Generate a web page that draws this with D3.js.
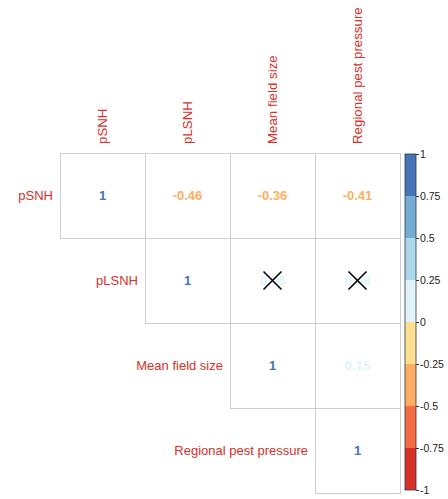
<!DOCTYPE html>
<html lang="en">
<head>
<meta charset="UTF-8">
<title>Correlation plot</title>
<script src="https://cdn.jsdelivr.net/npm/d3@7"></script>
<style>
  body { margin: 0; background: #fff; }
  text { font-family: "Liberation Sans", Arial, sans-serif; }
</style>
</head>
<body>
<script>
// variables and correlation values (upper triangle, row i / col j)
var vars = ["pSNH", "pLSNH", "Mean field size", "Regional pest pressure"];
var corr = [
  [1, -0.46, -0.36, -0.41],
  [null, 1, 0.06, 0.08],
  [null, null, 1, 0.15],
  [null, null, null, 1]
];
// cells that are not significant get a cross
var crossed = [[1, 2], [1, 3]];
var legendTicks = [1, 0.75, 0.5, 0.25, 0, -0.25, -0.5, -0.75, -1];
var bandColors = ["#D73027", "#F46D43", "#FDAE61", "#FEE090", "#E0F3F8", "#ABD9E9", "#74ADD1", "#4575B4"];

var width = 448, height = 499;
var svg = d3.select("body").append("svg")
    .attr("width", width)
    .attr("height", height);

var x = d3.scaleBand().domain(d3.range(vars.length)).range([60, 400]);
var y = d3.scaleBand().domain(d3.range(vars.length)).range([153, 493]);

var color = d3.scaleQuantize().domain([-1, 1]).range(bandColors);

var cells = [];
corr.forEach(function (row, i) {
    row.forEach(function (v, j) {
        if (v !== null) cells.push({ i: i, j: j, v: v });
    });
});

// cell borders
svg.selectAll(".cell")
    .data(cells)
    .enter().append("rect")
    .attr("class", "cell")
    .attr("x", function (d) { return x(d.j) + 0.5; })
    .attr("y", function (d) { return y(d.i) + 0.5; })
    .attr("width", x.bandwidth())
    .attr("height", y.bandwidth())
    .attr("fill", "none")
    .attr("stroke", "#cfcfcf")
    .attr("stroke-width", 1);

// numbers
svg.selectAll(".num")
    .data(cells)
    .enter().append("text")
    .attr("class", "num")
    .attr("x", function (d) { return x(d.j) + x.bandwidth() / 2; })
    .attr("y", function (d) { return y(d.i) + y.bandwidth() / 2; })
    .attr("dy", "0.36em")
    .attr("text-anchor", "middle")
    .style("font-size", "13px")
    .style("font-weight", "bold")
    .attr("fill", function (d) { return d.v === 1 ? bandColors[7] : color(d.v); })
    .text(function (d) { return d.v === 1 ? "1" : d3.format(".2f")(d.v).replace("\u2212", "-"); });

// crosses
var cr = 9;
crossed.forEach(function (c) {
    var cx = x(c[1]) + x.bandwidth() / 2, cy = y(c[0]) + y.bandwidth() / 2;
    svg.append("path")
        .attr("d", "M" + (cx - cr) + "," + (cy - cr) + "L" + (cx + cr) + "," + (cy + cr) +
                   "M" + (cx - cr) + "," + (cy + cr) + "L" + (cx + cr) + "," + (cy - cr))
        .attr("stroke", "#000")
        .attr("stroke-width", 1.6)
        .attr("fill", "none");
});

// row labels
svg.selectAll(".rlab")
    .data(vars)
    .enter().append("text")
    .attr("class", "rlab")
    .attr("x", function (d, i) { return x(i) - 7; })
    .attr("y", function (d, i) { return y(i) + y.bandwidth() / 2; })
    .attr("dy", "0.36em")
    .attr("text-anchor", "end")
    .style("font-size", "13px")
    .attr("fill", "#D7302A")
    .text(function (d) { return d; });

// column labels
svg.selectAll(".clab")
    .data(vars)
    .enter().append("text")
    .attr("class", "clab")
    .attr("transform", function (d, i) {
        return "translate(" + (x(i) + x.bandwidth() / 2) + ",144) rotate(-90)";
    })
    .attr("dy", "0.36em")
    .attr("text-anchor", "start")
    .style("font-size", "13.3px")
    .attr("fill", "#D7302A")
    .text(function (d) { return d; });

// colour legend
var ly = d3.scaleLinear().domain([1, -1]).range([154, 490]);
var lx = 405, lw = 11;
var bands = d3.range(bandColors.length).map(function (k) {
    return { lo: -1 + k * 0.25, hi: -1 + (k + 1) * 0.25, c: bandColors[k] };
});
svg.selectAll(".band")
    .data(bands)
    .enter().append("rect")
    .attr("class", "band")
    .attr("x", lx)
    .attr("y", function (d) { return ly(d.hi); })
    .attr("width", lw)
    .attr("height", function (d) { return ly(d.lo) - ly(d.hi); })
    .attr("fill", function (d) { return d.c; });
svg.append("rect")
    .attr("x", lx)
    .attr("y", ly(1))
    .attr("width", lw)
    .attr("height", ly(-1) - ly(1))
    .attr("fill", "none")
    .attr("stroke", "#2b3550")
    .attr("stroke-width", 0.8);

var axis = d3.axisRight(ly).tickValues(legendTicks).tickSize(3).tickPadding(1)
    .tickFormat(function (d) { return d === 0 ? "0" : String(d); });
var g = svg.append("g")
    .attr("transform", "translate(" + (lx + lw) + ",0)")
    .call(axis);
g.select(".domain").remove();
g.selectAll("line").attr("stroke", "#333");
g.selectAll("text")
    .style("font-size", "10.5px")
    .style("font-family", "'Liberation Sans', Arial, sans-serif")
    .attr("fill", "#222");
</script>
</body>
</html>
